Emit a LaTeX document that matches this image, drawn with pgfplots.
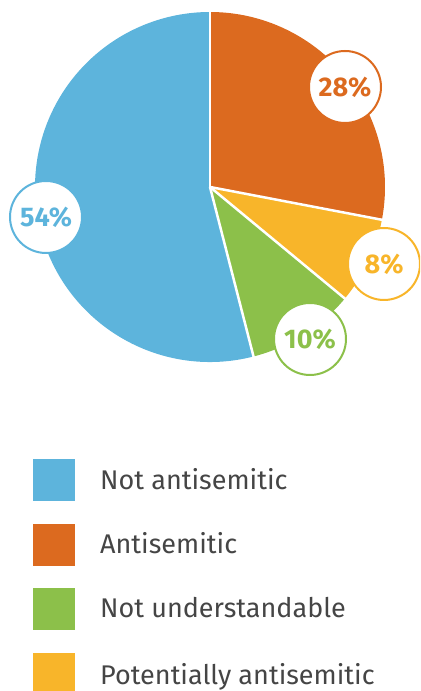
\documentclass[border=0pt]{standalone}
\usepackage{pgfplots}
\pgfplotsset{compat=1.18}
\usepackage{fontspec}
\setmainfont{Fira Sans}
\definecolor{blueC}{HTML}{5DB4DC}
\definecolor{orangeC}{HTML}{DC6A1F}
\definecolor{greenC}{HTML}{8CC04A}
\definecolor{yellowC}{HTML}{F8B52A}
\definecolor{txtC}{HTML}{454545}
% shares in percent, clockwise from 12 o'clock
\def\vOr{28}\def\vYe{8}\def\vGr{10}\def\vBl{54}
\begin{document}
\begin{tikzpicture}
\pgfmathsetmacro\aA{90}
\pgfmathsetmacro\aB{\aA-3.6*\vOr}
\pgfmathsetmacro\aC{\aB-3.6*\vYe}
\pgfmathsetmacro\aD{\aC-3.6*\vGr}
\pgfmathsetmacro\aE{\aD-3.6*\vBl}
\begin{axis}[
  x=1bp, y=1bp, xmin=0, xmax=420, ymin=0, ymax=691,
  hide axis, scale only axis, clip=true,
]
\path (axis cs:0,0) rectangle (axis cs:420,691);
% slices
\fill[orangeC] (axis cs:210,504) -- ++(\aA:175bp) arc[start angle=\aA, end angle=\aB, radius=175bp] -- cycle;
\fill[yellowC] (axis cs:210,504) -- ++(\aB:175bp) arc[start angle=\aB, end angle=\aC, radius=175bp] -- cycle;
\fill[greenC] (axis cs:210,504) -- ++(\aC:175bp) arc[start angle=\aC, end angle=\aD, radius=175bp] -- cycle;
\fill[blueC] (axis cs:210,504) -- ++(\aD:175bp) arc[start angle=\aD, end angle=\aE, radius=175bp] -- cycle;
% separators
\draw[white, line width=2.5bp] (axis cs:210,504) -- ++(\aA:177bp);
\draw[white, line width=2.5bp] (axis cs:210,504) -- ++(\aB:177bp);
\draw[white, line width=2.5bp] (axis cs:210,504) -- ++(\aC:177bp);
\draw[white, line width=2.5bp] (axis cs:210,504) -- ++(\aD:177bp);
% value labels
\draw[blueC, fill=white, line width=2bp] (axis cs:46,474) circle[radius=36bp];
\node[blueC, font=\fontsize{27bp}{30bp}\selectfont\bfseries] at (axis cs:46,474) {54\%};
\draw[orangeC, fill=white, line width=2bp] (axis cs:345,604) circle[radius=36bp];
\node[orangeC, font=\fontsize{27bp}{30bp}\selectfont\bfseries] at (axis cs:345,604) {28\%};
\draw[yellowC, fill=white, line width=2bp] (axis cs:384,427) circle[radius=36bp];
\node[yellowC, font=\fontsize{27bp}{30bp}\selectfont\bfseries] at (axis cs:384,427) {8\%};
\draw[greenC, fill=white, line width=2bp] (axis cs:310,352) circle[radius=36bp];
\node[greenC, font=\fontsize{27bp}{30bp}\selectfont\bfseries] at (axis cs:310,352) {10\%};
% legend
\fill[blueC] (axis cs:33,232) rectangle (axis cs:75,190);
\node[txtC, anchor=base west, inner sep=0pt, font=\fontsize{27bp}{32bp}\selectfont] at (axis cs:100,201) {Not antisemitic};
\fill[orangeC] (axis cs:33,167) rectangle (axis cs:75,125);
\node[txtC, anchor=base west, inner sep=0pt, font=\fontsize{27bp}{32bp}\selectfont] at (axis cs:100,137) {Antisemitic};
\fill[greenC] (axis cs:33,103) rectangle (axis cs:75,61);
\node[txtC, anchor=base west, inner sep=0pt, font=\fontsize{27bp}{32bp}\selectfont] at (axis cs:100,73) {Not understandable};
\fill[yellowC] (axis cs:33,38) rectangle (axis cs:75,0);
\node[txtC, anchor=base west, inner sep=0pt, font=\fontsize{27bp}{32bp}\selectfont] at (axis cs:100,6) {Potentially antisemitic};
\end{axis}
\end{tikzpicture}
\end{document}
